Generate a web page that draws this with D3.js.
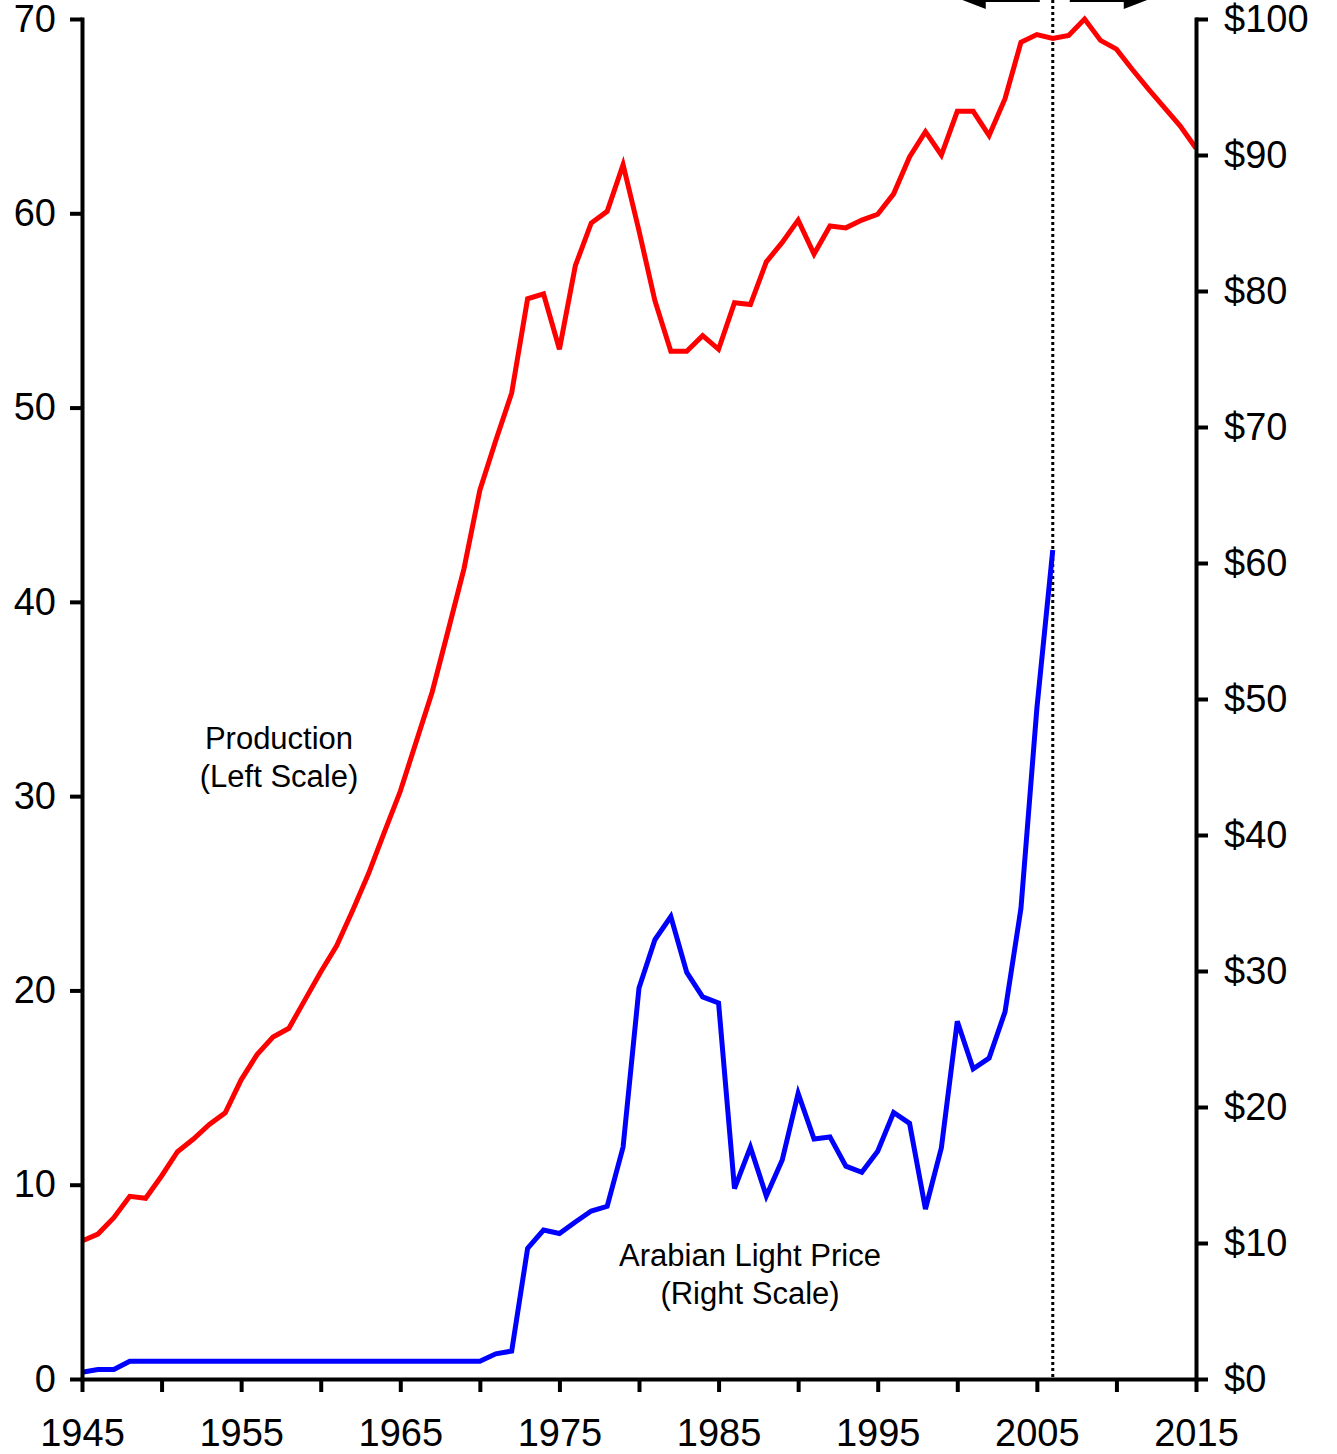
<!DOCTYPE html>
<html>
<head>
<meta charset="utf-8">
<script src="https://cdn.jsdelivr.net/npm/d3@7"></script>
<style>
  body { margin: 0; background: #fff; }
  svg text { font-family: Arial, "Liberation Sans", sans-serif; fill: #000; }
  .axis path, .axis line { stroke: #000; stroke-width: 4px; }
  .axis text { font-size: 38px; }
  .note { font-size: 31px; text-anchor: middle; }
</style>
</head>
<body>
<script>
// years on the x axis
var years = [1945,1946,1947,1948,1949,1950,1951,1952,1953,1954,
  1955,1956,1957,1958,1959,1960,1961,1962,1963,1964,
  1965,1966,1967,1968,1969,1970,1971,1972,1973,1974,
  1975,1976,1977,1978,1979,1980,1981,1982,1983,1984,
  1985,1986,1987,1988,1989,1990,1991,1992,1993,1994,
  1995,1996,1997,1998,1999,2000,2001,2002,2003,2004,
  2005,2006,2007,2008,2009,2010,2011,2012,2013,2014,2015];

// production, left scale
var production = [7.1,7.46,8.3,9.4,9.3,10.45,11.7,12.35,13.1,13.7,
  15.4,16.7,17.6,18.05,19.5,20.95,22.3,24.1,26.0,28.15,
  30.25,32.8,35.35,38.5,41.7,45.75,48.3,50.75,55.6,55.85,
  53.0,57.3,59.5,60.1,62.5,59.1,55.5,52.9,52.9,53.7,
  53.0,55.4,55.3,57.5,58.5,59.65,57.9,59.35,59.25,59.65,
  59.95,61.0,62.9,64.2,63.0,65.25,65.25,64.0,65.9,68.8,
  69.2,69.0,69.15,70.0,68.9,68.45,67.4,66.4,65.45,64.5,63.35];

// arabian light price, right scale (stops at 2006)
var price = [0.5,0.7,0.7,1.3,1.3,1.3,1.3,1.3,1.3,1.3,
  1.3,1.3,1.3,1.3,1.3,1.3,1.3,1.3,1.3,1.3,
  1.3,1.3,1.3,1.3,1.3,1.3,1.85,2.05,9.6,10.95,
  10.7,11.55,12.35,12.7,17.05,28.75,32.3,34.0,29.9,28.1,
  27.65,14.0,17.05,13.45,16.1,21.0,17.65,17.8,15.65,15.2,
  16.75,19.6,18.8,12.5,17.0,26.3,22.8,23.6,27.0,34.6,
  49.3,60.95,null,null,null,null,null,null,null,null,null];

var leftTicks = [0,10,20,30,40,50,60,70];
var rightTicks = [0,10,20,30,40,50,60,70,80,90,100];
var xTicks = [1945,1950,1955,1960,1965,1970,1975,1980,1985,1990,1995,2000,2005,2010,2015];
var xLabels = [1945,1955,1965,1975,1985,1995,2005,2015];
var splitYear = 2006;

var W = 1337, H = 1454;
var margin = {top: 19, right: 141, bottom: 75, left: 82};
var width = W - margin.left - margin.right;
var height = H - margin.top - margin.bottom;

var svg = d3.select("body").append("svg")
    .attr("width", W)
    .attr("height", H);

var g = svg.append("g")
    .attr("transform", "translate(" + margin.left + "," + margin.top + ")");

var xScale = d3.scaleLinear().domain([1945, 2015]).range([0, width]);
var yLeft = d3.scaleLinear().domain([0, 70]).range([height, 0]);
var yRight = d3.scaleLinear().domain([0, 100]).range([height, 0]);

//dotted split line
g.append("line")
    .attr("x1", xScale(splitYear)).attr("x2", xScale(splitYear))
    .attr("y1", -margin.top).attr("y2", height)
    .style("stroke", "#000")
    .style("stroke-width", 3)
    .style("stroke-dasharray", "3,3");

//arrows at top (mostly cut off)
var ax = xScale(splitYear);
var arrowY = -margin.top - 1;
function arrow(x0, x1) {
  var dir = x1 > x0 ? 1 : -1;
  g.append("line")
    .attr("x1", x0).attr("x2", x1 - dir * 18)
    .attr("y1", arrowY).attr("y2", arrowY)
    .style("stroke", "#000").style("stroke-width", 6);
  g.append("path")
    .attr("d", "M" + x1 + "," + arrowY + "L" + (x1 - dir * 26) + "," + (arrowY - 10) +
               "L" + (x1 - dir * 26) + "," + (arrowY + 10) + "Z")
    .style("fill", "#000");
}
arrow(ax - 13, ax - 93);
arrow(ax + 17, ax + 97);

//lines
var prodLine = d3.line()
    .x(function(d, i) { return xScale(years[i]); })
    .y(function(d) { return yLeft(d); });

var priceLine = d3.line()
    .defined(function(d) { return d != null; })
    .x(function(d, i) { return xScale(years[i]); })
    .y(function(d) { return yRight(d); });

g.append("path")
    .datum(production)
    .attr("d", prodLine)
    .style("fill", "none")
    .style("stroke", "#ff0000")
    .style("stroke-width", 5);

g.append("path")
    .datum(price)
    .attr("d", priceLine)
    .style("fill", "none")
    .style("stroke", "#0000ff")
    .style("stroke-width", 5);

//axes
var xAxis = d3.axisBottom(xScale)
    .tickValues(xTicks)
    .tickSize(13)
    .tickSizeOuter(0)
    .tickPadding(27)
    .tickFormat(function(d) { return xLabels.indexOf(d) >= 0 ? d : ""; });

var leftAxis = d3.axisLeft(yLeft)
    .tickValues(leftTicks)
    .tickSize(12)
    .tickSizeOuter(0)
    .tickPadding(14);

var rightAxis = d3.axisRight(yRight)
    .tickValues(rightTicks)
    .tickSize(12)
    .tickSizeOuter(0)
    .tickPadding(16)
    .tickFormat(function(d) { return "$" + d; });

g.append("g")
    .attr("class", "axis")
    .call(leftAxis);

g.append("g")
    .attr("class", "axis")
    .attr("transform", "translate(" + width + ",0)")
    .call(rightAxis);

g.append("g")
    .attr("class", "axis")
    .attr("transform", "translate(0," + height + ")")
    .call(xAxis);

g.selectAll(".axis .domain").style("stroke-linecap", "square");

//labels
var prodNote = g.append("text").attr("class", "note")
    .attr("x", 197).attr("y", 730);
prodNote.append("tspan").attr("x", 197).attr("dy", 0).text("Production");
prodNote.append("tspan").attr("x", 197).attr("dy", 38).text("(Left Scale)");

var priceNote = g.append("text").attr("class", "note")
    .attr("x", 668).attr("y", 1247);
priceNote.append("tspan").attr("x", 668).attr("dy", 0).text("Arabian Light Price");
priceNote.append("tspan").attr("x", 668).attr("dy", 38).text("(Right Scale)");
</script>
</body>
</html>
